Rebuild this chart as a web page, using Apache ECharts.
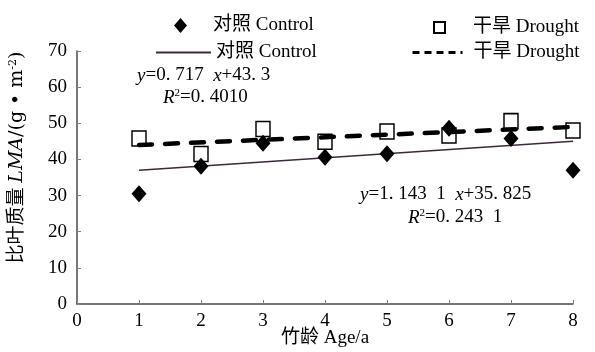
<!DOCTYPE html>
<html>
<head>
<meta charset="utf-8">
<script src="https://cdn.jsdelivr.net/npm/echarts@6/dist/echarts.min.js"></script>
<style>
  html, body { margin: 0; padding: 0; background: #fff; }
  #lma { width: 595px; height: 352px; }
</style>
</head>
<body>
<div id="lma"></div>
<script>
// 竹龄
var ages = [1, 2, 3, 4, 5, 6, 7, 8];
// 对照 比叶质量
var controlLMA = [30.5, 38.1, 44.5, 40.6, 41.6, 48.6, 45.8, 37.0];
// 干旱 比叶质量
var droughtLMA = [45.8, 41.5, 48.4, 44.9, 47.7, 46.6, 50.6, 48.0];
// 趋势线两端 (x, y)
var controlFit = [[1, 37.0], [8, 45.0]];
var droughtFit = [[1, 44.0], [8, 49.0]];

var serif = 'Liberation Serif, Noto Sans CJK SC, serif';
var wide = 'DejaVu Serif, Noto Sans CJK SC, serif';

function pairs(xs, ys) {
    var out = [];
    xs.forEach(function (x, i) { out.push([x, ys[i]]); });
    return out;
}

var names = {
    cPt: '对照 Control',
    dPt: '干旱 Drought',
    cFit: '对照 Control ',
    dFit: '干旱 Drought '
};

// 每个图例单独放置
function legendAt(name, icon, left, top, w, h, pad, extra) {
    var lg = {
        data: [{ name: name, icon: icon }],
        left: left,
        top: top,
        itemWidth: w,
        itemHeight: h,
        selectedMode: false,
        formatter: function (n) { return n.trim(); },
        textStyle: { fontFamily: serif, fontSize: 19, color: '#000', padding: [0, 0, 0, pad] }
    };
    if (!icon) delete lg.data[0].icon;
    for (var k in extra) lg[k] = extra[k];
    return lg;
}

function eqText(left, top, text) {
    return {
        type: 'text', left: left, top: top,
        style: {
            text: text,
            rich: {
                n: { fontFamily: serif, fontSize: 19, fill: '#000' },
                i: { fontFamily: serif, fontStyle: 'italic', fontSize: 19, fill: '#000' },
                s: { fontFamily: serif, fontSize: 11, fill: '#000', verticalAlign: 'top' }
            }
        }
    };
}

var myChart = echarts.init(document.getElementById('lma'));
var option = {
    backgroundColor: '#fff',
    animation: false,
    legend: [
        legendAt(names.cPt, 'diamond', 169, 11, 13, 15, 21, {}),
        legendAt(names.dPt, 'rect', 428, 13, 11, 11, 23, {}),
        legendAt(names.cFit, null, 150, 38, 55, 16, 0, { itemStyle: { opacity: 0 } }),
        legendAt(names.dFit, null, 406, 38, 50, 16, 6, {
            itemStyle: { opacity: 0 },
            lineStyle: { width: 3, type: [7, 5], cap: 'butt' }
        })
    ],
    grid: { left: 77, right: 22, top: 51, bottom: 48, outerBoundsMode: 'none' },
    xAxis: {
        type: 'value',
        min: 0,
        max: 8,
        interval: 1,
        name: '竹龄 Age/a',
        nameLocation: 'middle',
        nameGap: 25,
        nameMoveOverlap: false,
        nameTextStyle: { fontFamily: serif, fontSize: 19, color: '#000' },
        splitLine: { show: false },
        axisLine: { lineStyle: { color: '#4a4a4a', width: 1.5 } },
        axisTick: { inside: true, length: 4, lineStyle: { color: '#9b6f9b' } },
        axisLabel: { margin: 8, fontFamily: serif, fontSize: 19, color: '#000' }
    },
    yAxis: {
        type: 'value',
        min: 0,
        max: 70,
        interval: 10,
        name: '{a|比叶质量 }{i|LMA}{b|/(g • m}{s|-2}{b|)}',
        nameLocation: 'middle',
        nameRotate: 90,
        nameGap: 50,
        nameTextStyle: {
            padding: [0, 0, 0, 40],
            rich: {
                a: { fontFamily: serif, fontSize: 19, color: '#000' },
                b: { fontFamily: wide, fontSize: 19, color: '#000' },
                i: { fontFamily: wide, fontStyle: 'italic', fontSize: 19, color: '#000' },
                s: { fontFamily: wide, fontSize: 11, color: '#000', verticalAlign: 'top' }
            }
        },
        splitLine: { show: false },
        axisLine: { show: true, lineStyle: { color: '#4a4a4a', width: 1.5 } },
        axisTick: { show: true, inside: true, length: 4, lineStyle: { color: '#9b6f9b' } },
        axisLabel: { margin: 10, fontFamily: serif, fontSize: 19, color: '#000' }
    },
    graphic: [
        eqText(137, 66, '{i|y}{n|=0. 717  }{i|x}{n|+43. 3}'),
        eqText(163, 88, '{i|R}{s|2}{n|=0. 4010}'),
        eqText(360, 185, '{i|y}{n|=1. 143  1  }{i|x}{n|+35. 825}'),
        eqText(408, 208, '{i|R}{s|2}{n|=0. 243  1}')
    ],
    series: [
        {
            name: names.dFit,
            type: 'line',
            data: droughtFit,
            symbol: 'none',
            z: 2,
            lineStyle: { color: '#000', width: 4.5, type: [13, 13], cap: 'round' },
            itemStyle: { color: '#000' }
        },
        {
            name: names.cFit,
            type: 'line',
            data: controlFit,
            symbol: 'none',
            z: 2,
            lineStyle: { color: '#3a2a3a', width: 1.5 },
            itemStyle: { color: '#3a2a3a' }
        },
        {
            name: names.dPt,
            type: 'scatter',
            data: pairs(ages, droughtLMA),
            symbol: 'rect',
            symbolSize: [14, 15],
            z: 3,
            itemStyle: { color: 'rgba(0,0,0,0)', borderColor: '#000', borderWidth: 1.5, opacity: 1 }
        },
        {
            name: names.cPt,
            type: 'scatter',
            data: pairs(ages, controlLMA),
            symbol: 'diamond',
            symbolSize: [15, 17],
            z: 4,
            itemStyle: { color: '#000', opacity: 1 }
        }
    ]
};
myChart.setOption(option);
</script>
</body>
</html>
